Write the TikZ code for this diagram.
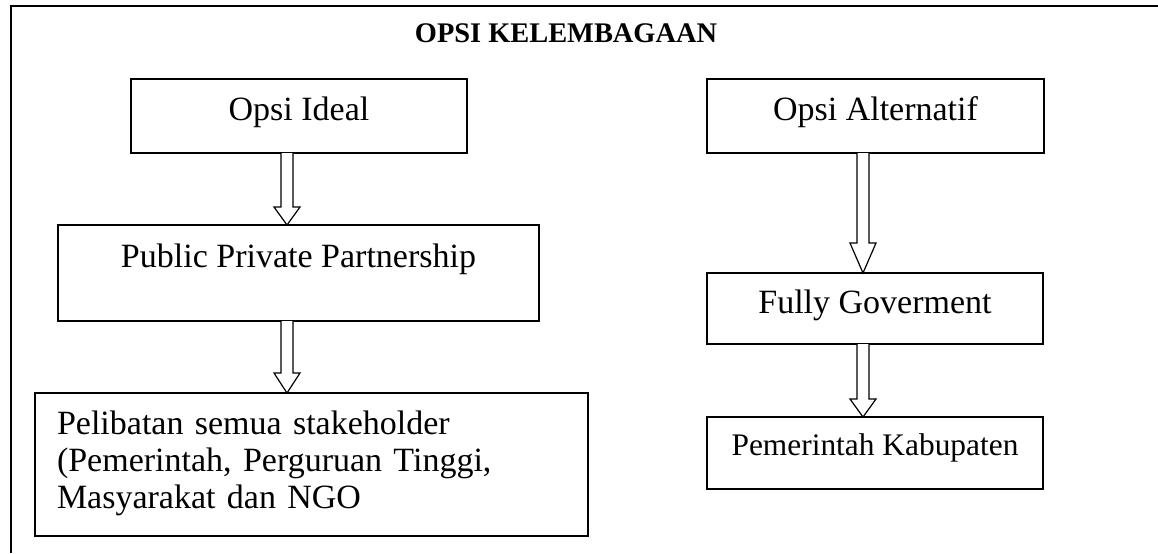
\documentclass[tikz,border=0pt]{standalone}
\usepackage{fontspec}
\setmainfont{Liberation Serif}
\usetikzlibrary{calc}

% hollow block arrow: start, tip, head length
\newcommand{\panah}[3]{%
  \draw[panah] let \p1=(#1), \p2=(#2) in
    (\x1-3pt,\y1) -- (\x1-3pt,\y2+#3) -- (\x1-6.5pt,\y2+#3) -- (\x2,\y2)
    -- (\x1+6.5pt,\y2+#3) -- (\x1+3pt,\y2+#3) -- (\x1+3pt,\y1);}

\begin{document}
\begin{tikzpicture}[x=0.5pt,y=-0.5pt,
  kotak/.style={draw, line width=1pt, inner sep=0pt, outer sep=0pt,
    font=\fontsize{17}{18.5}\selectfont},
  panah/.style={draw, line width=0.6pt, fill=white, line join=miter},
  bingkai/.style={line width=1pt}]
\useasboundingbox (0,0) rectangle (1158,553);

\draw[bingkai] (10.5,553) -- (10.5,6) -- (1158,6); % frame

\node[font=\bfseries\fontsize{14.2}{16}\selectfont, anchor=base] (judul) at (566,42) {OPSI KELEMBAGAAN};

% left column
\node[kotak, anchor=base, minimum width=168pt, text height=20.5pt, text depth=16.5pt] (ideal) at (299,120) {Opsi Ideal};
\node[kotak, anchor=base, minimum width=240.5pt, text height=21pt, text depth=27pt] (ppp) at (298.5,267) {Public Private Partnership};
\node[kotak, anchor=base west, align=left, text width=254.5pt, inner xsep=11pt, text height=20.5pt, text depth=51pt] (libat) at (35,434)
  {Pelibatan semua stakeholder\\(Pemerintah, Perguruan Tinggi,\\Masyarakat dan NGO};

% right column
\node[kotak, anchor=base, minimum width=168.5pt, text height=20.5pt, text depth=16.5pt] (alt) at (875.5,120) {Opsi Alternatif};
\node[kotak, anchor=base, minimum width=168pt, text height=20pt, text depth=15.5pt] (fully) at (875,313) {Fully Goverment};
\node[kotak, anchor=base, minimum width=168pt, text height=19pt, text depth=17pt, font=\fontsize{15.7}{17}\selectfont] (kab) at (875,455) {Pemerintah Kabupaten};

\coordinate (kiri) at (287,0);
\coordinate (kanan) at (863,0);

\panah{ideal.south -| kiri}{ppp.north -| kiri}{9pt}
\panah{ppp.south -| kiri}{libat.north -| kiri}{10pt}
\panah{alt.south -| kanan}{fully.north -| kanan}{15pt}
\panah{fully.south -| kanan}{kab.north -| kanan}{9pt}

\end{tikzpicture}
\end{document}
